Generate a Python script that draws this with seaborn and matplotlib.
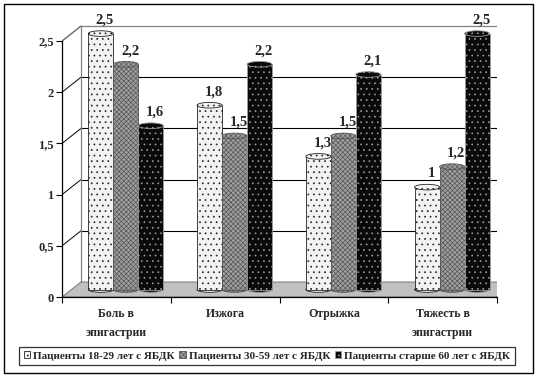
import matplotlib

matplotlib.use("Agg")

import matplotlib.pyplot as plt
import pandas as pd
import seaborn as sns
from matplotlib.patches import Ellipse, Polygon, Rectangle

# ── Data ──────────────────────────────────────────────────────────────────────
CATEGORIES = ["Боль в\nэпигастрии", "Изжога", "Отрыжка", "Тяжесть в\nэпигастрии"]
GROUPS = [
    "Пациенты 18-29 лет с ЯБДК",
    "Пациенты 30-59 лет с ЯБДК",
    "Пациенты старше 60 лет с ЯБДК",
]
AGE_18_29 = [2.5, 1.8, 1.3, 1.0]
AGE_30_59 = [2.2, 1.5, 1.5, 1.2]
AGE_60_PLUS = [1.6, 2.2, 2.1, 2.5]
Y_TICKS = [0, 0.5, 1, 1.5, 2, 2.5]
Y_TICK_LABELS = ["0", "0,5", "1", "1,5", "2", "2,5"]

# ── Style ─────────────────────────────────────────────────────────────────────
sns.set_style("white")
plt.rcParams["font.family"] = ["Liberation Serif", "DejaVu Serif"]
plt.rcParams["font.weight"] = "bold"
plt.rcParams["hatch.linewidth"] = 0.5

FACES = ["#f2f2f2", "#a0a0a0", "#0a0a0a"]
EDGES = ["#222222", "#555555", "#9a9a9a"]
HATCHES = ["...", "xxxxxxx", "..."]

# depth of the pseudo-3D box, in data units
DX, DY = 0.174, 0.146

df = pd.DataFrame({
    "category": CATEGORIES * 3,
    "group": [g for g in GROUPS for _ in CATEGORIES],
    "value": AGE_18_29 + AGE_30_59 + AGE_60_PLUS,
})

fig = plt.figure(figsize=(5.4, 3.8), dpi=100)
ax = fig.add_axes([62 / 540, 83 / 380, 435 / 540, 275 / 380])
ax.set_xlim(-0.5, 3.703)
ax.set_ylim(0, 2.686)

# ── Back wall, floor, side grid ───────────────────────────────────────────────
floor = Polygon([(-0.5, 0), (3.5, 0), (3.5 + DX, DY), (-0.5 + DX, DY)],
                closed=True, facecolor="#c0c0c0", edgecolor="#808080",
                lw=0.8, zorder=0.5)
ax.add_patch(floor)
for y in Y_TICKS[1:-1]:
    ax.plot([-0.5 + DX, 3.5 + DX], [y + DY, y + DY], color="black", lw=0.8, zorder=0.6)
for y in Y_TICKS[1:]:
    ax.plot([-0.5, -0.5 + DX], [y, y + DY], color="black", lw=0.7, zorder=0.6)
ax.plot([-0.5 + DX, 3.5 + DX], [2.5 + DY, 2.5 + DY], color="#808080", lw=0.9, zorder=0.6)
ax.plot([-0.5 + DX, -0.5 + DX], [DY, 2.5 + DY], color="#808080", lw=0.9, zorder=0.6)
ax.plot([3.5 + DX, 3.5 + DX], [DY, 2.5 + DY], color="#808080", lw=0.9, zorder=0.6)
ax.plot([-0.5, -0.5 + DX], [2.5, 2.5 + DY], color="#808080", lw=0.9, zorder=0.6)
ax.plot([3.5, 3.5 + DX], [0, DY], color="black", lw=0.8, zorder=0.6)

# ── Bars ──────────────────────────────────────────────────────────────────────
sns.barplot(data=df, x="category", y="value", hue="group", hue_order=GROUPS,
            order=CATEGORIES, width=0.69, palette=FACES, saturation=1,
            legend=False, ax=ax, zorder=2)

ell_h = 0.055
handles = []
for gi, container in enumerate(ax.containers):
    for patch in container:
        patch.set_x(patch.get_x() + DX / 2)
        patch.set_y(DY / 2)
        patch.set_facecolor(FACES[gi])
        patch.set_edgecolor(EDGES[gi])
        patch.set_hatch(HATCHES[gi])
        patch.set_linewidth(0.6)
        w = patch.get_width()
        cx = patch.get_x() + w / 2
        top = patch.get_y() + patch.get_height()
        z = 2 + gi * 0.1
        patch.set_zorder(z)
        bottom = Ellipse((cx, patch.get_y()), w, ell_h, facecolor=FACES[gi],
                         edgecolor=EDGES[gi], hatch=HATCHES[gi], lw=0.6, zorder=z - 0.05)
        cap = Ellipse((cx, top), w, ell_h, facecolor=FACES[gi],
                      edgecolor=EDGES[gi], hatch=HATCHES[gi], lw=0.6, zorder=z + 0.05)
        ax.add_patch(bottom)
        ax.add_patch(cap)
        label = f"{patch.get_height():g}".replace(".", ",")
        ax.annotate(label, (cx, top), xytext=(3, 5), textcoords="offset points",
                    ha="center", va="bottom", fontsize=10.5, fontweight="bold",
                    zorder=5, annotation_clip=False)
    handles.append(Rectangle((0, 0), 1, 1, facecolor=FACES[gi], edgecolor=EDGES[gi],
                             hatch=HATCHES[gi], lw=0.6))

# ── Axes ──────────────────────────────────────────────────────────────────────
for side in ["top", "right"]:
    ax.spines[side].set_visible(False)
ax.spines["left"].set_bounds(0, 2.5)
ax.spines["bottom"].set_bounds(-0.5, 3.5)
for side in ["left", "bottom"]:
    ax.spines[side].set_color("black")
    ax.spines[side].set_linewidth(0.9)
    ax.spines[side].set_zorder(3)

ax.set_yticks(Y_TICKS)
ax.set_yticklabels(Y_TICK_LABELS, fontsize=9, fontweight="bold")
ax.set_xticks([-0.5, 0.5, 1.5, 2.5, 3.5])
ax.set_xticklabels([])
ax.set_xticks(range(len(CATEGORIES)), minor=True)
ax.set_xticklabels(CATEGORIES, minor=True, fontsize=8.5, fontweight="bold",
                   linespacing=1.75, va="top")
ax.tick_params(axis="both", which="major", length=4, width=0.8, color="black",
               direction="out", left=True, bottom=True, pad=2)
ax.tick_params(axis="x", which="minor", length=0, pad=8)
ax.set_xlabel("")
ax.set_ylabel("")
ax.grid(False)

# ── Legend & outer frame ──────────────────────────────────────────────────────
leg = fig.legend(handles, GROUPS, loc="center", bbox_to_anchor=(267 / 540, 24 / 380),
                 ncol=3, frameon=True, fancybox=False, edgecolor="black",
                 handlelength=0.6, handleheight=0.6, handletextpad=0.25,
                 columnspacing=0.4, borderpad=0.4, borderaxespad=0,
                 prop={"family": "Liberation Serif", "weight": "bold", "size": 8})
leg.get_frame().set_linewidth(0.9)

fig.patches.append(Rectangle((4 / 540, 7 / 380), 529 / 540, 369 / 380,
                             transform=fig.transFigure, fill=False,
                             edgecolor="black", lw=1.0))

fig.savefig("out.png", dpi=100)
